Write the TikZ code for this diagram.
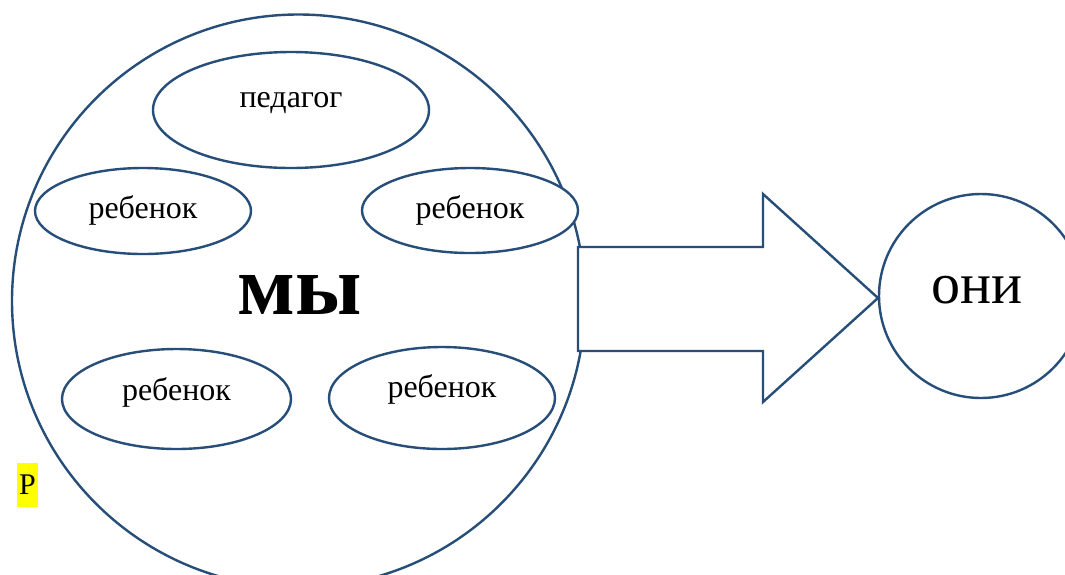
\documentclass[tikz,border=0pt]{standalone}
\usepackage{fontspec}
\setmainfont{Liberation Serif}
\usetikzlibrary{shapes.geometric}
\definecolor{lineblue}{RGB}{38,78,120}
\definecolor{hl}{RGB}{255,255,0}
\tikzset{
  oval/.style={ellipse, draw=lineblue, line width=2.4pt, fill=white, inner sep=0pt},
  lbl/.style={font=\fontsize{32}{34}\selectfont},
  ring/.style={circle, draw=lineblue, line width=2.4pt, fill=white, inner sep=0pt},
  bigarrow/.style={draw=lineblue, line width=2.4pt, fill=white, line join=miter}
}
\begin{document}
\begin{tikzpicture}[x=1pt,y=-1pt]
\useasboundingbox (0,0) rectangle (1065,574);
\clip (0,0) rectangle (1065,574);
\fill[white] (0,0) rectangle (1065,574);
% big circle
\node[ring, minimum size=573pt] (we) at (298.5,301) {};
% arrow
\draw[bigarrow] (578,247) -- (763,247) -- (763,194) -- (878,298) -- (763,402) -- (763,351) -- (578,351) -- cycle;
% right circle
\node[ring, minimum size=204pt] (they) at (981,296) {};
\node[font=\fontsize{58}{60}\selectfont] (theytext) at (977,290) {они};
% ellipses
\node[oval, minimum width=276pt, minimum height=116pt] (ped) at (291,110) {};
\node[lbl] (pedt) at (291,103) {педагог};
\node[oval, minimum width=216pt, minimum height=86pt] (c1) at (143,211) {};
\node[lbl] (c1t) at (143,210) {ребенок};
\node[oval, minimum width=216pt, minimum height=85pt] (c2) at (470,210.5) {};
\node[lbl] (c2t) at (470,210) {ребенок};
\node[oval, minimum width=229pt, minimum height=100pt] (c3) at (176.5,399) {};
\node[lbl] (c3t) at (176.5,392) {ребенок};
\node[oval, minimum width=226pt, minimum height=102pt] (c4) at (442,398) {};
\node[lbl] (c4t) at (442,389) {ребенок};
% labels
\node[font=\bfseries\fontsize{85}{88}\selectfont] (wetext) at (300,295) {мы};
\node[fill=hl, inner sep=0pt, minimum width=21pt, minimum height=44pt, font=\fontsize{30}{32}\selectfont] (p) at (27.5,485) {Р};
\end{tikzpicture}
\end{document}
